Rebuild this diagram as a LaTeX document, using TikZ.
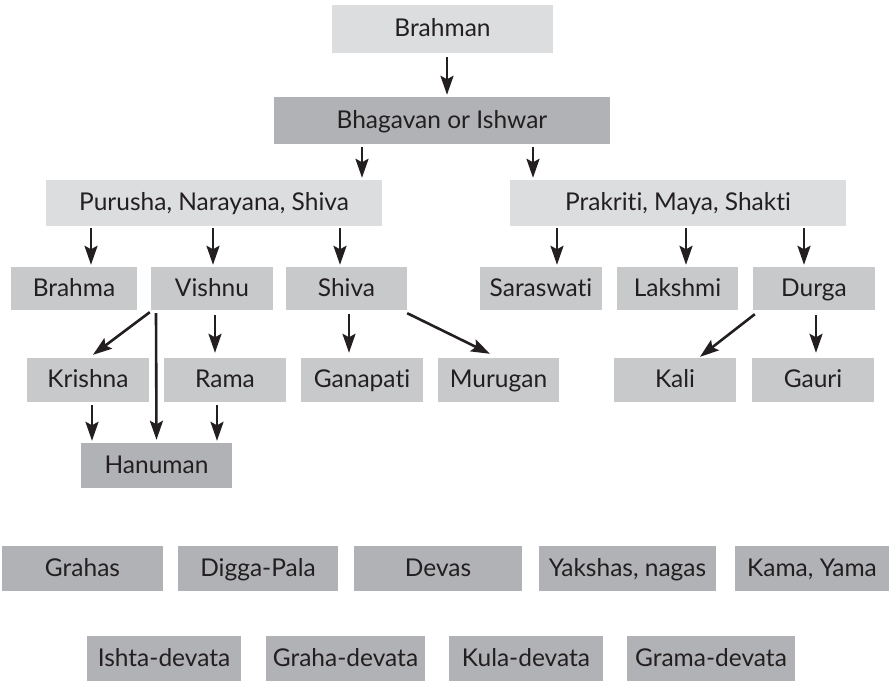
\documentclass[tikz,border=0pt]{standalone}
\usepackage{fontspec}
\setmainfont[Ligatures=NoCommon]{Lato}
\usetikzlibrary{arrows.meta}
\definecolor{boxlight}{RGB}{220,221,223}
\definecolor{boxmid}{RGB}{200,201,203}
\definecolor{boxdark}{RGB}{177,178,181}
\definecolor{ink}{RGB}{35,31,32}
\tikzset{
  gbox/.style={draw=none, inner sep=0pt, font=\fontsize{24.5}{28}\selectfont, text=ink, text height=17.5pt, text depth=2pt},
  lightbox/.style={gbox, fill=boxlight},
  midbox/.style={gbox, fill=boxmid},
  darkbox/.style={gbox, fill=boxdark},
  arr/.style={-{Stealth[length=19pt,width=13pt,inset=3.5pt]}, line width=2.6pt, draw=ink}
}
\begin{document}
\begin{tikzpicture}[x=1pt,y=-1pt]
\useasboundingbox (0,0) rectangle (890,682);
% top levels
\node[lightbox, minimum width=221pt, minimum height=48pt] (brahman) at (442.5,29) {Brahman};
\node[darkbox, minimum width=336pt, minimum height=47pt] (bhagavan) at (442,120.5) {Bhagavan or Ishwar};
\node[lightbox, minimum width=336pt, minimum height=46pt] (purusha) at (214,203) {Purusha, Narayana, Shiva};
\node[lightbox, minimum width=336pt, minimum height=46pt] (prakriti) at (678,203) {Prakriti, Maya, Shakti};
% row of gods
\node[midbox, minimum width=126pt, minimum height=43pt] (brahma) at (74,288.5) {Brahma};
\node[midbox, minimum width=122pt, minimum height=43pt] (vishnu) at (212,288.5) {Vishnu};
\node[midbox, minimum width=121pt, minimum height=43pt] (shiva) at (346.5,288.5) {Shiva};
\node[midbox, minimum width=122pt, minimum height=43pt] (saraswati) at (541,288.5) {Saraswati};
\node[midbox, minimum width=121pt, minimum height=43pt] (lakshmi) at (677.5,288.5) {Lakshmi};
\node[midbox, minimum width=122pt, minimum height=43pt] (durga) at (814,288.5) {Durga};
% third row
\node[midbox, minimum width=122pt, minimum height=44pt] (krishna) at (88,380) {Krishna};
\node[midbox, minimum width=122pt, minimum height=44pt] (rama) at (225,380) {Rama};
\node[midbox, minimum width=122pt, minimum height=44pt] (ganapati) at (362,380) {Ganapati};
\node[midbox, minimum width=121pt, minimum height=44pt] (murugan) at (498.5,380) {Murugan};
\node[midbox, minimum width=122pt, minimum height=44pt] (kali) at (675,380) {Kali};
\node[midbox, minimum width=122pt, minimum height=44pt] (gauri) at (813,380) {Gauri};
\node[darkbox, minimum width=151pt, minimum height=45pt] (hanuman) at (156.5,465.5) {Hanuman};
% bottom rows
\node[darkbox, minimum width=161pt, minimum height=45pt] (grahas) at (82.5,568.5) {Grahas};
\node[darkbox, minimum width=160pt, minimum height=45pt] (digga) at (258,568.5) {Digga-Pala};
\node[darkbox, minimum width=168pt, minimum height=45pt] (devas) at (438,568.5) {Devas};
\node[darkbox, minimum width=177pt, minimum height=45pt] (yakshas) at (627.5,568.5) {Yakshas, nagas};
\node[darkbox, minimum width=154pt, minimum height=45pt] (kama) at (812,568.5) {Kama, Yama};
\node[darkbox, minimum width=154pt, minimum height=45pt] (ishta) at (164,658.5) {Ishta-devata};
\node[darkbox, minimum width=159pt, minimum height=45pt] (grahadev) at (345.5,658.5) {Graha-devata};
\node[darkbox, minimum width=154pt, minimum height=45pt] (kula) at (526,658.5) {Kula-devata};
\node[darkbox, minimum width=168pt, minimum height=45pt] (grama) at (711,658.5) {Grama-devata};
% connectors
\draw[arr] ([xshift=4.5pt,yshift=-4pt]brahman.south) -- ([xshift=5pt,yshift=2pt]bhagavan.north);
\draw[arr] ([xshift=-80pt,yshift=-3pt]bhagavan.south) -- ([xshift=148pt,yshift=2pt]purusha.north);
\draw[arr] ([xshift=91pt,yshift=-3pt]bhagavan.south) -- ([xshift=-145pt,yshift=2pt]prakriti.north);
\draw[arr] ([xshift=-123pt,yshift=-2pt]purusha.south) -- ([xshift=17pt,yshift=2pt]brahma.north);
\draw[arr] ([xshift=-1pt,yshift=-2pt]purusha.south) -- ([xshift=1pt,yshift=2pt]vishnu.north);
\draw[arr] ([xshift=126pt,yshift=-2pt]purusha.south) -- ([xshift=-6.5pt,yshift=2pt]shiva.north);
\draw[arr] ([xshift=-121pt,yshift=-2pt]prakriti.south) -- ([xshift=16pt,yshift=2pt]saraswati.north);
\draw[arr] ([xshift=8pt,yshift=-2pt]prakriti.south) -- ([xshift=8.5pt,yshift=2pt]lakshmi.north);
\draw[arr] ([xshift=126pt,yshift=-2pt]prakriti.south) -- ([xshift=-10pt,yshift=2pt]durga.north);
\draw[arr] ([xshift=-1pt,yshift=-2pt]vishnu.south west) -- ([xshift=5pt,yshift=3pt]krishna.north);
\draw[arr] ([xshift=-56pt,yshift=-3pt]vishnu.south) -- ([xshift=0pt,yshift=3pt]hanuman.north);
\draw[arr] ([xshift=3pt,yshift=-5pt]vishnu.south) -- ([xshift=-10pt,yshift=5pt]rama.north);
\draw[arr] ([xshift=4pt,yshift=-3pt]krishna.south) -- ([xshift=-64.5pt,yshift=2pt]hanuman.north);
\draw[arr] ([xshift=-8pt,yshift=-3pt]rama.south) -- ([xshift=60.5pt,yshift=2pt]hanuman.north);
\draw[arr] ([xshift=2.5pt,yshift=-4pt]shiva.south) -- ([xshift=-13pt,yshift=5pt]ganapati.north);
\draw[arr] ([xshift=0pt,yshift=-3pt]shiva.south east) -- ([xshift=-8.5pt,yshift=4pt]murugan.north);
\draw[arr] ([xshift=2pt,yshift=-4pt]durga.south west) -- ([xshift=25pt,yshift=1pt]kali.north);
\draw[arr] ([xshift=2pt,yshift=-5pt]durga.south) -- ([xshift=3pt,yshift=5pt]gauri.north);
\end{tikzpicture}
\end{document}
